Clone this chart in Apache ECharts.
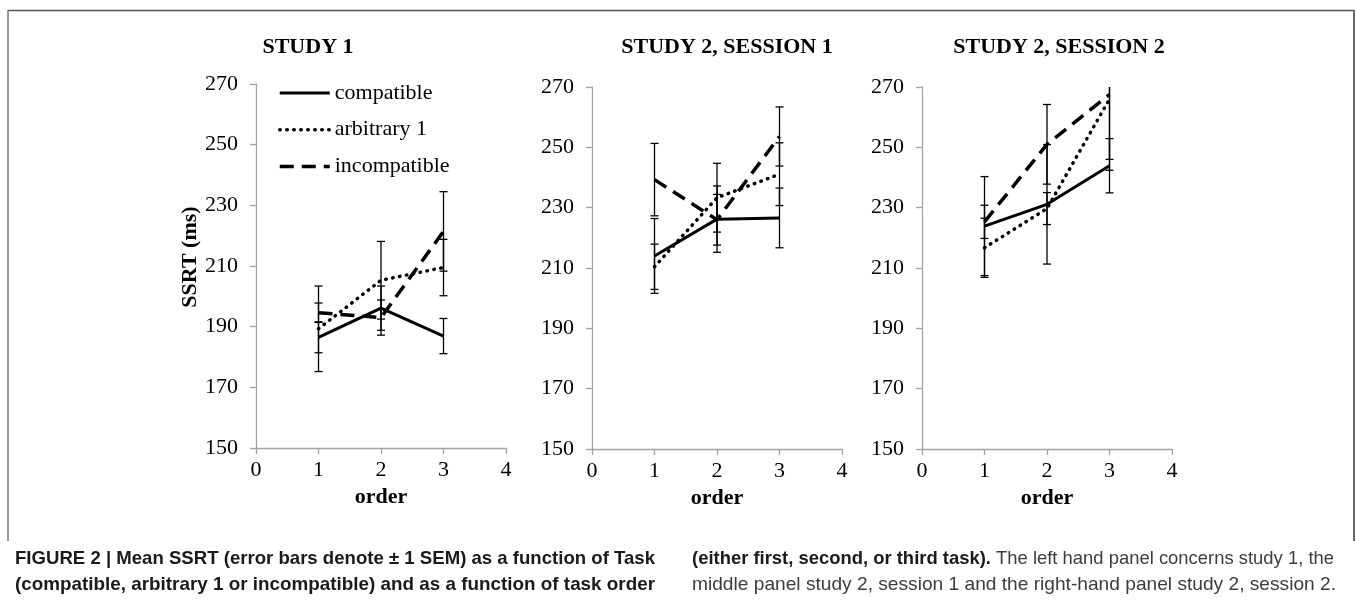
<!DOCTYPE html>
<html><head><meta charset="utf-8">
<script src="https://cdn.jsdelivr.net/npm/echarts@6/dist/echarts.min.js"></script>
<style>html,body{margin:0;padding:0;background:#fff}#c{width:1356px;height:600px}</style>
</head><body><div id="c"></div>
<script>
// ---------- data ----------
const orders = [1, 2, 3];
const seriesNames = ['compatible', 'arbitrary 1', 'incompatible'];
const panelTitles = ['STUDY 1', 'STUDY 2, SESSION 1', 'STUDY 2, SESSION 2'];
const xTicks = [0, 1, 2, 3, 4];
const yTicks = [150, 170, 190, 210, 230, 250, 270];
const yAxisTitle = 'SSRT (ms)';
const xAxisTitle = 'order';

// Study 1
const s1Compatible = [186.5, 196.1, 186.9];
const s1CompatibleSem = [5.1, 7.3, 5.8];
const s1Arbitrary = [189.3, 205.3, 209.5];
const s1ArbitrarySem = [14.1, 12.8, 9.3];
const s1Incompatible = [194.6, 193.0, 221.4];
const s1IncompatibleSem = [3.2, 5.8, 13.1];

// Study 2, session 1
const s2aCompatible = [214.0, 226.2, 226.6];
const s2aCompatibleSem = [12.4, 11.0, 9.9];
const s2aArbitrary = [210.4, 233.3, 241.1];
const s2aArbitrarySem = [7.5, 11.4, 10.4];
const s2aIncompatible = [239.3, 226.0, 253.6];
const s2aIncompatibleSem = [12.0, 8.4, 9.8];

// Study 2, session 2
const s2bCompatible = [223.9, 231.1, 243.9];
const s2bCompatibleSem = [16.4, 19.8, 9.0];
const s2bArbitrary = [216.7, 229.7, 266.0];
const s2bArbitrarySem = [9.8, 5.3, 23.6];
const s2bIncompatible = [225.3, 251.0, 267.5];
const s2bIncompatibleSem = [5.5, 13.2, 21.5];

const captionCol1 = [
  'FIGURE 2 | Mean SSRT (error bars denote \u00b1 1 SEM) as a function of Task',
  '(compatible, arbitrary 1 or incompatible) and as a function of task order'
];
const captionCol2Bold = '(either first, second, or third task).';
const captionCol2Rest = ' The left hand panel concerns study 1, the';
const captionCol2Line2 = 'middle panel study 2, session 1 and the right-hand panel study 2, session 2.';

// ---------- layout / style ----------
const panels = [
  { grid: { left: 256, top: 84, width: 250, height: 364 }, titleX: 308,
    vals: [s1Compatible, s1Arbitrary, s1Incompatible], sems: [s1CompatibleSem, s1ArbitrarySem, s1IncompatibleSem] },
  { grid: { left: 592, top: 87, width: 250, height: 362 }, titleX: 727,
    vals: [s2aCompatible, s2aArbitrary, s2aIncompatible], sems: [s2aCompatibleSem, s2aArbitrarySem, s2aIncompatibleSem] },
  { grid: { left: 922, top: 87, width: 250, height: 362 }, titleX: 1059,
    vals: [s2bCompatible, s2bArbitrary, s2bIncompatible], sems: [s2bCompatibleSem, s2bArbitrarySem, s2bIncompatibleSem] }
];
const serif = '"Liberation Serif", "Times New Roman", serif';
const axisGrey = '#a3a3a3';
const lineStyles = [
  { color: '#000', width: 3, type: 'solid' },
  { color: '#000', width: 3.5, type: [0.5, 6.5], cap: 'round' },
  { color: '#000', width: 3.5, type: [14, 8], cap: 'butt' }
];

const grids = [], xAxes = [], yAxes = [], series = [];
panels.forEach((p, pi) => {
  grids.push(Object.assign({ containLabel: false }, p.grid));
  xAxes.push({
    type: 'value', gridIndex: pi, min: xTicks[0], max: xTicks[xTicks.length - 1], interval: xTicks[1] - xTicks[0],
    name: xAxisTitle, nameLocation: 'middle', nameGap: 33,
    nameTextStyle: { fontFamily: serif, fontWeight: 'bold', fontSize: 22, color: '#000' },
    axisLine: { show: true, onZero: false, lineStyle: { color: axisGrey, width: 1.3 } },
    axisTick: { show: true, length: 6, lineStyle: { color: axisGrey, width: 1.3 } },
    axisLabel: { fontFamily: serif, fontSize: 22, color: '#000', margin: 11 },
    splitLine: { show: false }
  });
  yAxes.push({
    type: 'value', gridIndex: pi, min: yTicks[0], max: yTicks[yTicks.length - 1], interval: yTicks[1] - yTicks[0],
    name: pi === 0 ? yAxisTitle : '', nameLocation: 'middle', nameGap: 54,
    nameTextStyle: { fontFamily: serif, fontWeight: 'bold', fontSize: 22, color: '#000', padding: [0, 0, 0, 18] },
    axisLine: { show: true, lineStyle: { color: axisGrey, width: 1.3 } },
    axisTick: { show: true, length: 6, lineStyle: { color: axisGrey, width: 1.3 } },
    axisLabel: { fontFamily: serif, fontSize: 22, color: '#000', margin: 18 },
    splitLine: { show: false }
  });
  seriesNames.forEach((nm, si) => {
    const vals = p.vals[si], sems = p.sems[si];
    series.push({
      type: 'custom', xAxisIndex: pi, yAxisIndex: pi, clip: true, silent: true, z: 3,
      data: orders.map((o, i) => [o, vals[i] - sems[i], vals[i] + sems[i]]),
      encode: { x: 0, y: [1, 2] },
      renderItem: function (params, api) {
        const lo = api.coord([api.value(0), api.value(1)]);
        const hi = api.coord([api.value(0), api.value(2)]);
        const hw = 4, st = { stroke: '#000', lineWidth: 1.3 };
        return { type: 'group', children: [
          { type: 'line', shape: { x1: lo[0], y1: lo[1], x2: hi[0], y2: hi[1] }, style: st },
          { type: 'line', shape: { x1: lo[0] - hw, y1: lo[1], x2: lo[0] + hw, y2: lo[1] }, style: st },
          { type: 'line', shape: { x1: hi[0] - hw, y1: hi[1], x2: hi[0] + hw, y2: hi[1] }, style: st }
        ] };
      }
    });
    series.push({
      type: 'line', name: nm, xAxisIndex: pi, yAxisIndex: pi, z: 2,
      data: orders.map((o, i) => [o, vals[i]]),
      symbol: 'none', showSymbol: false, silent: true,
      itemStyle: { color: '#000' },
      lineStyle: lineStyles[si]
    });
  });
});

// ---------- texts ----------
const ctx = document.createElement('canvas').getContext('2d');
function measure(text, font) { ctx.font = font; return ctx.measureText(text).width; }
const capSize = 19;
const capFam = '"Liberation Sans Narrow", "Liberation Sans", Arial, sans-serif';
const capBoldFont = 'bold ' + capSize + 'px ' + capFam;
const capRegFont = capSize + 'px ' + capFam;

const graphics = [
  { type: 'line', shape: { x1: 8, y1: 10.5, x2: 1354, y2: 10.5 }, style: { stroke: '#555', lineWidth: 1.5 } },
  { type: 'line', shape: { x1: 8, y1: 10, x2: 8, y2: 541 }, style: { stroke: '#777', lineWidth: 1.5 } },
  { type: 'line', shape: { x1: 1354, y1: 10, x2: 1354, y2: 541 }, style: { stroke: '#666', lineWidth: 2 } }
];
panels.forEach((p, pi) => {
  graphics.push({ type: 'text', x: p.titleX, y: 47,
    style: { text: panelTitles[pi], font: 'bold 22px ' + serif, fill: '#000',
      align: 'center', verticalAlign: 'middle', textAlign: 'center', textVerticalAlign: 'middle' } });
});
const col1Left = 15, col1Right = 655, col2Left = 692, col2Right = 1334;
const rowY = [559, 585];
captionCol1.forEach((t, i) => {
  const sx = (col1Right - col1Left) / measure(t, capBoldFont);
  graphics.push({ type: 'text', x: col1Left, y: rowY[i], scaleX: sx,
    style: { text: t, font: capBoldFont, fill: '#1a1a1a', align: 'left', verticalAlign: 'middle', textAlign: 'left', textVerticalAlign: 'middle' } });
});
{
  const wTot = measure(captionCol2Bold, capBoldFont) + measure(captionCol2Rest, capRegFont);
  const sx = (col2Right - col2Left) / wTot;
  graphics.push({ type: 'text', x: col2Left, y: rowY[0], scaleX: sx,
    style: { text: '{b|' + captionCol2Bold + '}{r|' + captionCol2Rest + '}',
      align: 'left', verticalAlign: 'middle', textAlign: 'left', textVerticalAlign: 'middle',
      rich: { b: { font: capBoldFont, fill: '#1a1a1a', fontFamily: capFam, fontWeight: 'bold', fontSize: capSize },
              r: { font: capRegFont, fill: '#3c3c3c', fontFamily: capFam, fontSize: capSize } } } });
  const sx2 = (col2Right + 2 - col2Left) / measure(captionCol2Line2, capRegFont);
  graphics.push({ type: 'text', x: col2Left, y: rowY[1], scaleX: sx2,
    style: { text: captionCol2Line2, font: capRegFont, fill: '#3c3c3c', align: 'left', verticalAlign: 'middle', textAlign: 'left', textVerticalAlign: 'middle' } });
}

const chart = echarts.init(document.getElementById('c'), null, { renderer: 'canvas' });
chart.setOption({
  animation: false,
  backgroundColor: '#fff',
  grid: grids,
  xAxis: xAxes,
  yAxis: yAxes,
  legend: {
    data: seriesNames.map((nm, i) => ({ name: nm, lineStyle: Object.assign({}, lineStyles[i]) })),
    orient: 'vertical', left: 278, top: 82, padding: 0,
    itemWidth: 50, itemHeight: 14, itemGap: 14.7, selectedMode: false,
    itemStyle: { opacity: 0 },
    textStyle: { fontFamily: serif, fontSize: 22, color: '#000' }
  },
  series: series,
  graphic: graphics
});
</script>
</body></html>
